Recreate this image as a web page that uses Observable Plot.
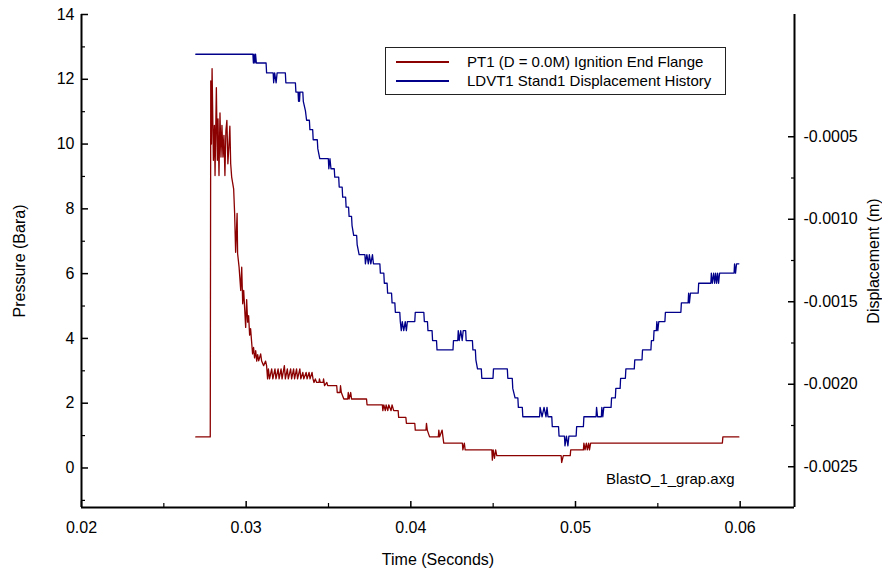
<!DOCTYPE html>
<html><head><meta charset="utf-8">
<script src="https://cdn.jsdelivr.net/npm/d3@7"></script>
<script src="https://cdn.jsdelivr.net/npm/@observablehq/plot@0.6"></script>
<style>
body{margin:0;background:#fff;color:#000;font-family:"Liberation Sans",Arial,sans-serif;}
#wrap{position:relative;width:882px;height:573px;}
.legend{position:absolute;left:385px;top:47px;width:339px;height:46px;border:1px solid #222;background:#fff;font-size:15px;}
.sw{position:absolute;left:10px;width:53px;height:0;border-top:2px solid;}
.lab{position:absolute;left:81px;white-space:nowrap;line-height:18px;}
</style></head><body><div id="wrap"></div>
<script>
// ---- data ----
const seriesNames = ["PT1 (D = 0.0M) Ignition End Flange", "LDVT1 Stand1 Displacement History"];
const seriesColors = ["#8b0000", "#00008b"];

const pressureTime = [0.02694,0.02785,0.02789,0.02793,0.02801,0.02807,0.02811,0.02819,0.02825,0.02829,0.02835,0.02841,0.02847,0.02853,0.02859,0.02865,0.02871,0.02877,0.02883,0.02889,0.02895,0.02901,0.02906,0.02912,0.02924,0.0293,0.02936,0.02945,0.02948,0.02957,0.02967,0.02973,0.02979,0.02985,0.02997,0.03003,0.03009,0.03015,0.03021,0.03027,0.03033,0.03039,0.03045,0.03051,0.03058,0.03064,0.0307,0.03076,0.03088,0.03094,0.03106,0.03118,0.03124,0.0313,0.03135,0.03142,0.03155,0.03162,0.03175,0.03181,0.03194,0.032,0.03212,0.03218,0.03232,0.03238,0.0325,0.03256,0.0327,0.03276,0.03288,0.03294,0.03306,0.03312,0.03326,0.03332,0.03344,0.0335,0.03364,0.0337,0.03382,0.03388,0.034,0.03406,0.03412,0.0342,0.03428,0.03445,0.0345,0.0347,0.03476,0.0349,0.03495,0.03553,0.03573,0.03578,0.03593,0.0362,0.03625,0.03635,0.0364,0.03734,0.0383,0.03836,0.03845,0.0385,0.0386,0.03866,0.0388,0.03886,0.03896,0.03926,0.03973,0.04027,0.04095,0.041,0.04114,0.0417,0.04175,0.0419,0.04195,0.042,0.04316,0.04325,0.0433,0.04495,0.045,0.04508,0.04515,0.04522,0.04916,0.04926,0.04971,0.05051,0.05058,0.05066,0.05072,0.0508,0.05085,0.05092,0.05895,0.05992];
const pressureBara = [0.96,11.95,10.0,12.33,9.5,10.58,9.03,11.74,9.5,10.78,9.03,10.96,9.6,10.58,9.6,10.27,9.03,10.42,10.73,9.39,9.91,10.55,9.39,8.98,8.62,7.85,6.66,7.86,6.62,6.2,5.48,6.2,5.07,5.48,4.34,5.2,4.5,4.7,4.1,4.3,3.9,3.52,3.72,3.4,3.62,3.3,3.5,3.31,3.52,3.3,3.16,3.3,3.16,2.75,3.06,2.75,3.06,2.75,3.06,2.75,3.06,2.75,3.06,2.75,3.16,2.75,3.06,2.75,3.06,2.75,3.06,2.75,3.06,2.75,3.06,2.75,2.95,2.75,2.95,2.75,2.95,2.75,2.95,2.75,2.64,2.75,2.64,2.75,2.64,2.75,2.54,2.64,2.54,2.33,2.54,2.33,2.13,2.33,2.13,2.33,2.13,1.95,1.77,1.95,1.77,1.95,1.77,1.95,1.77,1.95,1.77,1.56,1.38,1.17,1.38,1.17,0.96,1.17,0.96,1.17,0.96,0.77,0.56,0.77,0.56,0.24,0.56,0.3,0.56,0.38,0.17,0.38,0.56,0.77,0.56,0.77,0.56,0.77,0.56,0.77,0.96,0.96];

const dispTime = [0.02694,0.03044,0.03048,0.03053,0.03057,0.03062,0.03124,0.03167,0.03173,0.03182,0.03188,0.03241,0.03302,0.03318,0.03321,0.03324,0.03327,0.03347,0.0336,0.03367,0.03387,0.03407,0.03435,0.03447,0.03502,0.03509,0.03515,0.03538,0.03565,0.03586,0.03607,0.03625,0.03643,0.03653,0.03674,0.03686,0.03724,0.03733,0.03742,0.03748,0.03757,0.03767,0.03773,0.03815,0.03839,0.03859,0.03886,0.03906,0.03936,0.03942,0.03948,0.03957,0.03966,0.03973,0.03979,0.04027,0.04082,0.04104,0.04132,0.04159,0.04259,0.04288,0.04294,0.04303,0.04312,0.04318,0.04336,0.04377,0.04395,0.04405,0.04431,0.04502,0.04589,0.04619,0.04633,0.04653,0.0468,0.04785,0.04797,0.04809,0.04821,0.04827,0.04833,0.04859,0.049,0.04936,0.04945,0.04954,0.0496,0.05007,0.05051,0.05128,0.05134,0.0516,0.05166,0.05172,0.05219,0.05245,0.05274,0.05306,0.0536,0.05407,0.05461,0.05477,0.05494,0.055,0.05506,0.05546,0.05643,0.05687,0.05692,0.05698,0.05748,0.05825,0.05831,0.05839,0.05845,0.05851,0.05857,0.05863,0.05869,0.05875,0.05966,0.05972,0.05978,0.05992];
const dispMetres = [0,-0.000053,0,-0.000053,0,-0.000053,-0.000113,-0.000173,-0.000113,-0.000173,-0.000113,-0.000173,-0.000229,-0.000285,-0.000229,-0.000285,-0.000229,-0.000285,-0.000343,-0.0004,-0.000457,-0.000518,-0.000572,-0.000633,-0.000694,-0.000633,-0.000694,-0.000745,-0.000805,-0.000866,-0.000927,-0.000983,-0.001038,-0.001098,-0.001153,-0.001214,-0.00127,-0.001214,-0.00127,-0.001214,-0.00127,-0.001214,-0.00127,-0.001327,-0.001388,-0.001448,-0.001507,-0.001564,-0.00162,-0.001675,-0.00162,-0.001675,-0.00162,-0.001675,-0.00162,-0.001564,-0.00162,-0.001675,-0.001735,-0.001792,-0.001735,-0.001675,-0.001735,-0.001675,-0.001735,-0.001675,-0.001735,-0.001792,-0.001852,-0.001907,-0.001964,-0.001907,-0.001964,-0.002025,-0.002083,-0.00214,-0.002197,-0.00214,-0.002197,-0.00214,-0.002197,-0.00214,-0.002197,-0.002257,-0.002314,-0.002373,-0.002314,-0.002373,-0.002314,-0.002257,-0.002197,-0.00214,-0.002197,-0.00214,-0.002197,-0.00214,-0.002083,-0.002025,-0.001964,-0.001907,-0.001852,-0.001792,-0.001735,-0.001675,-0.00162,-0.001675,-0.00162,-0.001564,-0.001507,-0.001448,-0.001507,-0.001448,-0.001388,-0.001327,-0.001388,-0.001327,-0.001388,-0.001327,-0.001388,-0.001327,-0.001388,-0.001327,-0.00127,-0.001327,-0.00127,-0.00127];

const xTicks = [0.02, 0.03, 0.04, 0.05, 0.06];
const xMinorTicks = [0.025, 0.035, 0.045, 0.055];
const yTicks = [0, 2, 4, 6, 8, 10, 12, 14];
const yMinorTicks = [-1, 1, 3, 5, 7, 9, 11, 13];
const dispTicks = [-0.0005, -0.0010, -0.0015, -0.0020, -0.0025];
const dispMinorTicks = [-0.00075, -0.00125, -0.00175, -0.00225];

// ---- scales ----
const xDomain = [0.02, 0.0633];
const yDomain = [-1.22, 14];
const dDomain = [-0.002747, 0.000241];
const toP = d => yDomain[0] + (d - dDomain[0]) / (dDomain[1] - dDomain[0]) * (yDomain[1] - yDomain[0]);
const fromP = p => dDomain[0] + (p - yDomain[0]) / (yDomain[1] - yDomain[0]) * (dDomain[1] - dDomain[0]);

const pData = pressureTime.map((t, i) => ({t, v: pressureBara[i]}));
const dData = dispTime.map((t, i) => ({t, v: toP(dispMetres[i])}));

// sampled-signal curve: holds a value over long gaps (step), joins dense samples directly
function sampledCurve(context) {
  let x0, y0, n = 0;
  return {
    areaStart() {}, areaEnd() {},
    lineStart() { n = 0; },
    lineEnd() {},
    point(x, y) {
      x = +x; y = +y;
      if (n++ === 0) context.moveTo(x, y);
      else {
        if (x - x0 > 2.5) context.lineTo(x - 0.5, y0);
        context.lineTo(x, y);
      }
      x0 = x; y0 = y;
    }
  };
}

const chart = Plot.plot({
  width: 882, height: 573,
  marginLeft: 81, marginRight: 88, marginTop: 14, marginBottom: 66,
  x: {domain: xDomain},
  y: {domain: yDomain},
  style: {fontFamily: "Liberation Sans, Arial, sans-serif", fontSize: "16px", background: "#fff", color: "#000", overflow: "visible"},
  marks: [
    Plot.line(pData, {x: "t", y: "v", curve: sampledCurve, stroke: seriesColors[0], strokeWidth: 1.3}),
    Plot.line(dData, {x: "t", y: "v", curve: sampledCurve, stroke: seriesColors[1], strokeWidth: 1.3}),
    Plot.ruleX([xDomain[0]], {stroke: "#000", strokeWidth: 2}),
    Plot.ruleX([xDomain[1]], {stroke: "#000", strokeWidth: 2}),
    Plot.ruleY([yDomain[0]], {stroke: "#000", strokeWidth: 2}),
    Plot.axisX(xTicks, {anchor: "bottom", tickSize: -6, tickPadding: 20, fontSize: 16, strokeWidth: 1.5, tickFormat: d3.format(".2f"), label: null}),
    Plot.axisX(xMinorTicks, {anchor: "bottom", tickSize: -4, tickFormat: () => "", strokeWidth: 1.2, label: null}),
    Plot.axisY(yTicks, {anchor: "left", tickSize: -7, tickPadding: 14, fontSize: 16, strokeWidth: 1.5, label: null}),
    Plot.axisY(yMinorTicks, {anchor: "left", tickSize: -4, tickFormat: () => "", strokeWidth: 1.2, label: null}),
    Plot.axisY(dispTicks.map(toP), {anchor: "right", tickSize: -7, tickPadding: 16, fontSize: 16, strokeWidth: 1.5, tickFormat: p => fromP(p).toFixed(4), label: null}),
    Plot.axisY(dispMinorTicks.map(toP), {anchor: "right", tickSize: -4, tickFormat: () => "", strokeWidth: 1.2, label: null}),
    Plot.text(["Pressure (Bara)"], {frameAnchor: "left", dx: -62, rotate: -90, textAnchor: "middle", fontSize: 16}),
    Plot.text(["Time (Seconds)"], {frameAnchor: "bottom", dy: 57, textAnchor: "middle", fontSize: 16}),
    Plot.text(["Displacement (m)"], {frameAnchor: "right", dx: 79, rotate: -90, textAnchor: "middle", fontSize: 16}),
    Plot.text(["BlastO_1_grap.axg"], {frameAnchor: "bottom-right", dx: -60, dy: -28, textAnchor: "end", lineAnchor: "middle", fontSize: 15})
  ]
});

const wrap = document.getElementById("wrap");
wrap.appendChild(chart);
const legend = document.createElement("div");
legend.className = "legend";
seriesNames.forEach((name, i) => {
  const sw = document.createElement("div");
  sw.className = "sw";
  sw.style.borderColor = seriesColors[i];
  sw.style.top = (13 + i * 19) + "px";
  const lab = document.createElement("div");
  lab.className = "lab";
  lab.style.top = (5 + i * 19) + "px";
  lab.textContent = name;
  legend.appendChild(sw);
  legend.appendChild(lab);
});
wrap.appendChild(legend);
</script>
</body></html>
